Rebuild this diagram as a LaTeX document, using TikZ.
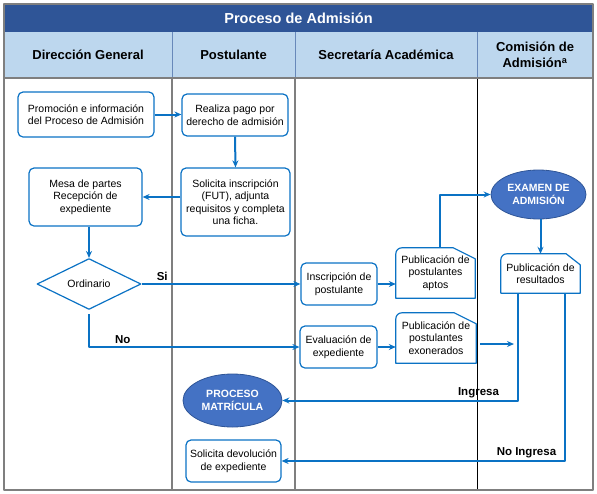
\documentclass[tikz,border=0pt]{standalone}
\usepackage{fontspec}
\setmainfont{Liberation Sans}
\usetikzlibrary{shapes.geometric,arrows.meta}
\definecolor{tituloazul}{HTML}{2F5597}
\definecolor{cabecera}{HTML}{BDD7EE}
\definecolor{flujo}{HTML}{0A72C4}
\definecolor{elipse}{HTML}{4472C4}
\definecolor{divisor}{HTML}{7F7F7F}
\begin{document}
\begin{tikzpicture}[x=1pt,y=-1pt,line join=round,>={Stealth[length=7pt,width=6pt]}]
	\tikzset{every node/.style={font=\fontsize{10.5}{12.5}\selectfont,align=center,inner sep=2pt},
		caja/.style={draw=flujo,line width=1.2pt,rounded corners=5pt},
		hoja/.style={inner sep=1pt},
		rombo/.style={diamond,draw=flujo,line width=1.2pt,inner sep=0pt},
		elip/.style={ellipse,draw=tituloazul,line width=0.8pt,fill=elipse,text=white,inner sep=0pt,font=\fontsize{10.5}{13}\selectfont\bfseries},
		flecha/.style={->,draw=flujo,line width=2pt},
		etiq/.style={font=\fontsize{11.5}{13}\selectfont\bfseries,inner sep=2pt},
		cabe/.style={font=\fontsize{13}{15.5}\selectfont\bfseries}}
	\useasboundingbox (0,0) rectangle (597,493);
	\fill[tituloazul] (4,4) rectangle (593,32);
	\fill[cabecera] (4,32) rectangle (593,78);
	\node[white,font=\fontsize{14.5}{17}\selectfont\bfseries] (titulo) at (298.5,18) {Proceso de Admisión};
	\draw[line width=1pt,color=tituloazul!60!cabecera] (172,32)--(172,78) (295,32)--(295,78) (477,32)--(477,78);
	\draw[line width=1.3pt,divisor] (172,78)--(172,490) (295,78)--(295,490);
	\draw[line width=0.9pt,black] (477,78)--(477,490);
	\draw[line width=2pt,divisor] (4,78)--(593,78);
	\draw[line width=1.5pt,divisor] (4,4) rectangle (593,490);
	\node[cabe] (dirg) at (88,55) {Dirección General};
	\node[cabe] (post) at (233.5,55) {Postulante};
	\node[cabe] (secr) at (386,55) {Secretaría Académica};
	\node[cabe] (comi) at (535,55) {Comisión de\\Admisión\textsuperscript{a}};
	\node[caja,minimum width=136pt,minimum height=45pt] (prom) at (86,114.5) {Promoción e información\\del Proceso de Admisión};
	\node[caja,minimum width=106pt,minimum height=42pt] (pago) at (235,115) {Realiza pago por\\derecho de admisión};
	\node[caja,minimum width=109pt,minimum height=68pt] (solic) at (235.5,202) {Solicita inscripción\\(FUT), adjunta\\requisitos y completa\\una ficha.};
	\node[caja,minimum width=113pt,minimum height=58pt] (mesa) at (85.5,197) {Mesa de partes\\Recepción de\\expediente};
	\node[rombo,minimum width=104pt,minimum height=46pt] (ordin) at (89,284) {Ordinario};
	\node[caja,minimum width=76pt,minimum height=42pt] (inscr) at (339,284) {Inscripción de\\postulante};
	\node[caja,minimum width=77pt,minimum height=42pt] (evalu) at (338.5,347) {Evaluación de\\expediente};
	\node[hoja,minimum width=79pt,minimum height=50pt] (aptos) at (435.5,273) {Publicación de\\postulantes\\aptos};
	\node[hoja,minimum width=80pt,minimum height=50pt] (exon) at (436,338) {Publicación de\\postulantes\\exonerados};
	\node[hoja,minimum width=79pt,minimum height=39pt] (result) at (540.5,273.5) {Publicación de\\resultados};
	\node[elip,minimum width=95pt,minimum height=49pt] (examen) at (538.5,194.5) {EXAMEN DE\\ADMISIÓN};
	\node[elip,minimum width=99pt,minimum height=53pt] (matric) at (232.5,400.5) {PROCESO\\MATRÍCULA};
	\node[caja,minimum width=95pt,minimum height=42pt] (devol) at (233.5,461) {Solicita devolución\\de expediente};
	\foreach \n/\c in {aptos/22,exon/22,result/14}
		\draw[draw=flujo,line width=1.2pt] (\n.south west) -- ([yshift=-6pt]\n.north west) to[out=90,in=180] ([xshift=6pt]\n.north west) -- ([xshift=-\c pt]\n.north east) -- ([yshift=-11pt]\n.north east) -- (\n.south east) -- cycle;
	\coordinate (cruce) at (514,344);
	\draw[flecha] (prom.east) -- (pago.west |- prom.east);
	\draw[flecha] (pago.south) -- (solic.north);
	\draw[flecha] (mesa.east -| solic.west) -- (mesa.east);
	\draw[flecha] (ordin.north |- mesa.south) -- (ordin.north);
	\draw[flecha] (ordin.east) -- (inscr.west) node[etiq,above,pos=0.13] {Si};
	\draw[flecha] ([yshift=-4pt]ordin.south) |- (evalu.west) node[etiq,above,pos=0.58] {No};
	\draw[flecha] (inscr.east) -- (aptos.west |- inscr.east);
	\draw[flecha] (evalu.east) -- (exon.west |- evalu.east);
	\draw[flecha] ([xshift=4pt]aptos.north) |- (examen.west);
	\draw[flecha] (examen.south -| result.north) -- (result.north);
	\draw[flecha] ([shift={(4pt,-6pt)}]exon.east) -- (cruce);
	\draw[flecha] ([xshift=-23pt]result.south) |- (matric.east) node[etiq,above,pos=0.583] {Ingresa};
	\draw[flecha] ([xshift=24.5pt]result.south) |- (devol.east) node[etiq,above,pos=0.568] {No Ingresa};
\end{tikzpicture}
\end{document}
